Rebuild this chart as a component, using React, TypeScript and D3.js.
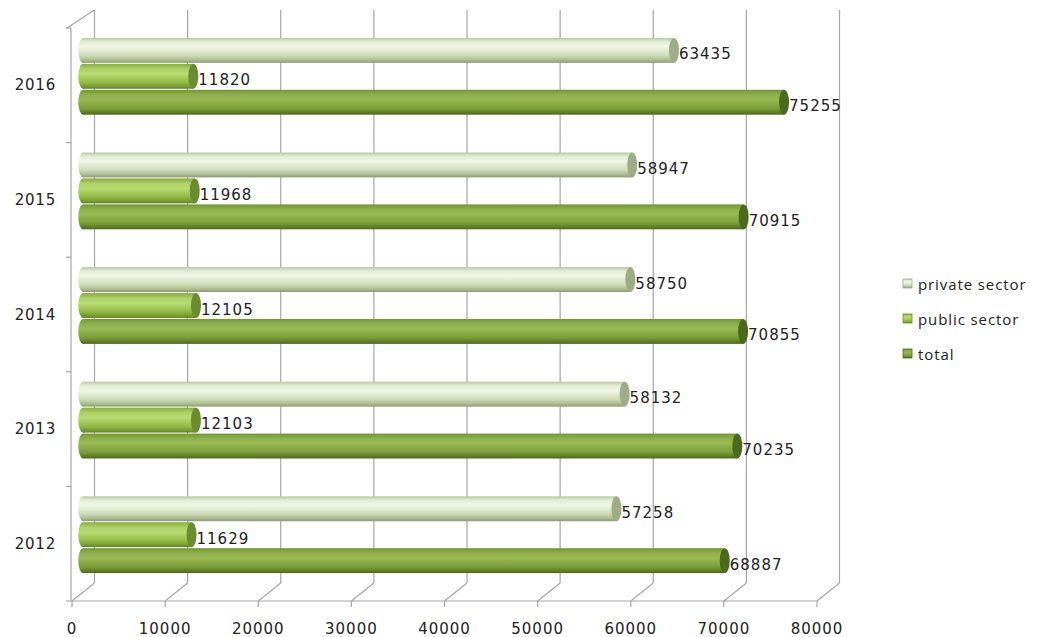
import React from "react";
import * as d3 from "d3";

const years = ["2016", "2015", "2014", "2013", "2012"];
const seriesNames = ["private sector", "public sector", "total"];
const privateSector = [63435, 58947, 58750, 58132, 57258];
const publicSector = [11820, 11968, 12105, 12103, 11629];
const totalValues = [75255, 70915, 70855, 70235, 68887];
const xTicks = [0, 10000, 20000, 30000, 40000, 50000, 60000, 70000, 80000];

const W = 1038;
const H = 637;
const DX = 22.5;
const DY = -18;
const FRONT_TOP = 28;
const FRONT_BOTTOM = 601;
const WALL_X = 71;

const gradients = [
  {
    id: "gPriv",
    stops: [
      [0, "#b9c8a0"],
      [0.15, "#e2ecd2"],
      [0.35, "#f0f6e6"],
      [0.7, "#cfdcb8"],
      [0.9, "#a9b98f"],
      [1, "#8a9a70"],
    ],
    cap: "#9eac88",
  },
  {
    id: "gPub",
    stops: [
      [0, "#86ab40"],
      [0.2, "#acd064"],
      [0.4, "#b9dc74"],
      [0.75, "#91b943"],
      [0.9, "#789d32"],
      [1, "#5f8225"],
    ],
    cap: "#6a8e2f",
  },
  {
    id: "gTot",
    stops: [
      [0, "#729534"],
      [0.2, "#8fb14c"],
      [0.4, "#98b955"],
      [0.75, "#7a9e37"],
      [0.9, "#627f25"],
      [1, "#4b6a1a"],
    ],
    cap: "#4b6a1c",
  },
];

export default function App() {
  const x = d3.scaleLinear().domain([0, 80000]).range([72, 817]);
  const yBand = d3
    .scaleBand<string>()
    .domain(years)
    .range([FRONT_TOP, FRONT_BOTTOM])
    .paddingInner(0.33)
    .paddingOuter(0.165);
  const sBand = d3
    .scaleBand<string>()
    .domain(seriesNames)
    .range([0, yBand.bandwidth()])
    .paddingInner(0.04);
  const yFront = d3.scaleBand<string>().domain(years).range([FRONT_TOP, FRONT_BOTTOM]);

  const data = [privateSector, publicSector, totalValues];
  const gray = "#a6a6a6";
  const font = "'DejaVu Sans', Verdana, sans-serif";

  const bars: React.ReactNode[] = [];
  years.forEach((yr, i) => {
    seriesNames.forEach((s, j) => {
      const v = data[j][i];
      const h = sBand.bandwidth();
      const top = (yBand(yr) as number) + (sBand(s) as number) + DY / 2;
      const x0 = x(0) + DX / 2;
      const x1 = x(v) + DX / 2;
      const rx = 5;
      const g = gradients[j];
      bars.push(
        <g key={yr + s}>
          <ellipse cx={x0} cy={top + h / 2} rx={rx} ry={h / 2} fill={`url(#${g.id})`} />
          <rect x={x0} y={top} width={x1 - x0} height={h} fill={`url(#${g.id})`} />
          <ellipse cx={x1} cy={top + h / 2} rx={rx} ry={h / 2} fill={g.cap} />
          <ellipse cx={x1 - 1} cy={top + h / 2} rx={rx - 2} ry={h / 2 - 3} fill={g.cap} opacity={0.6} />
          <text
            x={x1 + rx}
            y={top + h / 2 + 9}
            fontFamily={font}
            fontSize={15}
            letterSpacing={1}
            fill="#222"
          >
            {v}
          </text>
        </g>
      );
    });
  });

  return (
    <svg
      width={W}
      height={H}
      style={{ position: "absolute", left: 0, top: 0, background: "#fff" }}
    >
      <defs>
        {gradients.map((g) => (
          <linearGradient key={g.id} id={g.id} x1="0" y1="0" x2="0" y2="1">
            {g.stops.map((st, k) => (
              <stop key={k} offset={st[0] as number} stopColor={st[1] as string} />
            ))}
          </linearGradient>
        ))}
      </defs>
      <rect x={0} y={0} width={W} height={H} fill="#fff" />
      {xTicks.map((t) => (
        <line
          key={"bg" + t}
          x1={x(t) + DX}
          x2={x(t) + DX}
          y1={FRONT_TOP + DY}
          y2={FRONT_BOTTOM + DY}
          stroke={gray}
          strokeWidth={1.2}
        />
      ))}
      {xTicks.map((t) => (
        <line
          key={"fd" + t}
          x1={x(t)}
          x2={x(t) + DX}
          y1={FRONT_BOTTOM}
          y2={FRONT_BOTTOM + DY}
          stroke={gray}
          strokeWidth={1.2}
        />
      ))}
      <line x1={WALL_X} x2={x(80000)} y1={FRONT_BOTTOM} y2={FRONT_BOTTOM} stroke={gray} strokeWidth={1.2} />
      {xTicks.map((t) => (
        <line key={"xt" + t} x1={x(t)} x2={x(t)} y1={FRONT_BOTTOM} y2={FRONT_BOTTOM + 6} stroke={gray} strokeWidth={1.2} />
      ))}
      <line x1={WALL_X} x2={WALL_X} y1={FRONT_TOP} y2={FRONT_BOTTOM} stroke={gray} strokeWidth={1.2} />
      <line x1={WALL_X - 4} x2={x(0) + DX} y1={FRONT_TOP} y2={FRONT_TOP + DY} stroke={gray} strokeWidth={1.2} />
      {[...years.map((y) => yFront(y) as number), FRONT_BOTTOM].map((yy, k) => (
        <line key={"yt" + k} x1={WALL_X - 5} x2={WALL_X} y1={yy} y2={yy} stroke={gray} strokeWidth={1.2} />
      ))}
      {bars}
      {years.map((yr) => (
        <text
          key={"yl" + yr}
          x={56}
          y={(yFront(yr) as number) + yFront.bandwidth() / 2 + 5}
          textAnchor="end"
          fontFamily={font}
          fontSize={15}
          letterSpacing={0.8}
          fill="#222"
        >
          {yr}
        </text>
      ))}
      {xTicks.map((t) => (
        <text
          key={"xl" + t}
          x={x(t)}
          y={634}
          textAnchor="middle"
          fontFamily={font}
          fontSize={15}
          letterSpacing={1}
          fill="#222"
        >
          {t}
        </text>
      ))}
      {seriesNames.map((s, j) => (
        <g key={"lg" + s} transform={`translate(903, ${285 + j * 35})`}>
          <rect x={0} y={-6} width={9} height={9} fill={`url(#${gradients[j].id})`} stroke={gradients[j].cap} strokeWidth={0.8} />
          <text x={15} y={5} fontFamily="'Open Sans', sans-serif" fontSize={15} letterSpacing={0.9} fill="#222">
            {s}
          </text>
        </g>
      ))}
    </svg>
  );
}
